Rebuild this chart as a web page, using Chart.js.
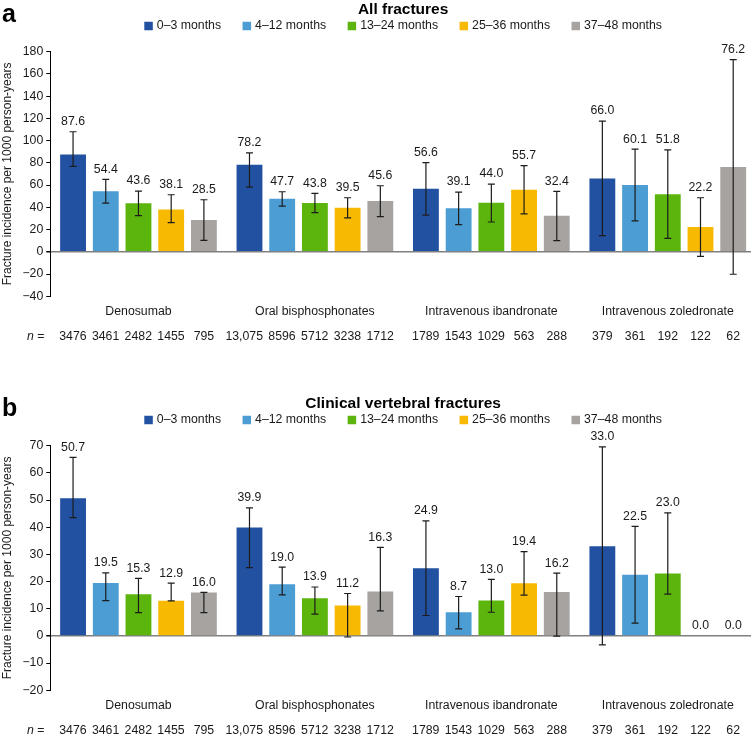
<!DOCTYPE html>
<html>
<head>
<meta charset="utf-8">
<script src="https://cdn.jsdelivr.net/npm/chart.js@4.4.1/dist/chart.umd.min.js"></script>
<style>
    html, body { margin: 0; padding: 0; background: #fff; overflow: hidden; }
    .panel { position: absolute; left: 0; }
</style>
</head>
<body>
<div class="panel" style="top:0px"><canvas id="chartA" width="756" height="342"></canvas></div>
<div class="panel" style="top:394px"><canvas id="chartB" width="756" height="342"></canvas></div>
<script>
const categories = ['Denosumab', 'Oral bisphosphonates', 'Intravenous ibandronate', 'Intravenous zoledronate'];
const periods = ['0–3 months', '4–12 months', '13–24 months', '25–36 months', '37–48 months'];
const colors = ['#2251a1', '#4b9dd3', '#5cb50d', '#f8b902', '#a7a3a0'];

// patients at risk, per period (same for both panels)
const n03 = [3476, 13075, 1789, 379];
const n412 = [3461, 8596, 1543, 361];
const n1324 = [2482, 5712, 1029, 192];
const n2536 = [1455, 3238, 563, 122];
const n3748 = [795, 1712, 288, 62];

// panel a - all fractures
const allRate03 = [87.6, 78.2, 56.6, 66.0];
const allRate412 = [54.4, 47.7, 39.1, 60.1];
const allRate1324 = [43.6, 43.8, 44.0, 51.8];
const allRate2536 = [38.1, 39.5, 55.7, 22.2];
const allRate3748 = [28.5, 45.6, 32.4, 76.2];
const allLo03 = [76.9, 58.2, 32.9, 14.5];
const allHi03 = [108.0, 89.0, 80.2, 117.6];
const allLo412 = [43.7, 41.0, 24.4, 27.8];
const allHi412 = [65.2, 54.0, 53.7, 92.3];
const allLo1324 = [32.6, 35.3, 26.8, 12.1];
const allHi1324 = [54.6, 52.5, 60.9, 91.7];
const allLo2536 = [26.2, 30.5, 34.1, -4.2];
const allHi2536 = [51.3, 48.6, 77.5, 48.6];
const allLo3748 = [10.3, 31.7, 10.0, -20.2];
const allHi3748 = [46.8, 59.4, 54.3, 172.9];
const allTicks = [-40, -20, 0, 20, 40, 60, 80, 100, 120, 140, 160, 180];

// panel b - clinical vertebral fractures
const vertRate03 = [50.7, 39.9, 24.9, 33.0];
const vertRate412 = [19.5, 19.0, 8.7, 22.5];
const vertRate1324 = [15.3, 13.9, 13.0, 23.0];
const vertRate2536 = [12.9, 11.2, 19.4, 0.0];
const vertRate3748 = [16.0, 16.3, 16.2, 0.0];
const vertLo03 = [43.5, 25.1, 7.5, -3.3];
const vertHi03 = [65.7, 47.1, 42.3, 69.6];
const vertLo412 = [13.0, 15.1, 2.6, 4.7];
const vertHi412 = [23.2, 25.3, 14.5, 40.3];
const vertLo1324 = [8.6, 8.0, 8.7, 15.4];
const vertHi1324 = [21.2, 18.0, 20.8, 45.3];
const vertLo2536 = [12.9, -0.4, 15.0, null];
const vertHi2536 = [19.4, 15.6, 31.0, null];
const vertLo3748 = [8.6, 9.2, -0.1, null];
const vertHi3748 = [16.0, 32.6, 23.1, null];
const vertTicks = [-20, -10, 0, 10, 20, 30, 40, 50, 60, 70];

const nCounts = [n03, n412, n1324, n2536, n3748];
const FONT = "'Liberation Sans', Arial, sans-serif";
const FS = 12.3;
const TXT = '#1a1a1a';

Chart.defaults.font.family = FONT;
Chart.defaults.color = TXT;

function formatN(v) {
    return v >= 10000 ? v.toLocaleString('en-US') : String(v);
}

const extras = {
    id: 'extras',
    afterDatasetsDraw(chart) {
        const ctx = chart.ctx;
        const y = chart.scales.y;
        ctx.save();
        chart.data.datasets.forEach((ds, di) => {
            const meta = chart.getDatasetMeta(di);
            meta.data.forEach((bar, i) => {
                let top = y.getPixelForValue(ds.data[i]);
                if (ds.lo[i] != null && ds.hi[i] != null) {
                    const yl = y.getPixelForValue(ds.lo[i]);
                    const yh = y.getPixelForValue(ds.hi[i]);
                    ctx.strokeStyle = '#1c1c1c';
                    ctx.lineWidth = 1.2;
                    ctx.beginPath();
                    ctx.moveTo(bar.x, yl); ctx.lineTo(bar.x, yh);
                    ctx.moveTo(bar.x - 3.5, yl); ctx.lineTo(bar.x + 3.5, yl);
                    ctx.moveTo(bar.x - 3.5, yh); ctx.lineTo(bar.x + 3.5, yh);
                    ctx.stroke();
                    top = Math.min(top, yh);
                }
                ctx.fillStyle = TXT;
                ctx.font = FS + 'px ' + FONT;
                ctx.textAlign = 'center';
                ctx.textBaseline = 'middle';
                ctx.fillText(ds.data[i].toFixed(1), bar.x, top - 10);
            });
        });
        ctx.restore();
    },
    afterDraw(chart, args, opts) {
        const ctx = chart.ctx;
        const area = chart.chartArea;
        ctx.save();
        // panel letter
        ctx.fillStyle = '#000';
        ctx.font = 'bold 25px ' + FONT;
        ctx.textAlign = 'left';
        ctx.textBaseline = 'alphabetic';
        ctx.fillText(opts.letter, 2, 22);

        // legend
        ctx.font = FS + 'px ' + FONT;
        ctx.textBaseline = 'middle';
        const box = 8.5, gapBox = 4, gapItem = 21.5;
        const widths = chart.data.datasets.map(ds => ctx.measureText(ds.label).width);
        const total = widths.reduce((s, w) => s + box + gapBox + w, 0) + gapItem * (widths.length - 1);
        let x = (area.left + area.right) / 2 - total / 2;
        const ly = 26;
        chart.data.datasets.forEach((ds, k) => {
            ctx.fillStyle = ds.backgroundColor;
            ctx.fillRect(x, ly - box / 2, box, box);
            ctx.fillStyle = TXT;
            ctx.fillText(ds.label, x + box + gapBox, ly);
            x += box + gapBox + widths[k] + gapItem;
        });

        // n row
        const ny = area.bottom + 40;
        ctx.font = 'italic ' + FS + 'px ' + FONT;
        ctx.textAlign = 'left';
        ctx.fillText('n', 27, ny);
        const nw = ctx.measureText('n').width;
        ctx.font = FS + 'px ' + FONT;
        ctx.fillText(' =', 27 + nw, ny);
        ctx.textAlign = 'center';
        chart.data.datasets.forEach((ds, di) => {
            chart.getDatasetMeta(di).data.forEach((bar, i) => {
                const txt = formatN(ds.n[i]);
                const w = ctx.measureText(txt).width;
                ctx.fillText(txt, bar.x - Math.max(0, (w - 27) / 2), ny);
            });
        });
        ctx.restore();
    }
};

function buildChart(canvasId, letter, title, rates, los, his, ticks) {
    const datasets = periods.map((p, k) => ({
        label: p,
        data: rates[k],
        lo: los[k],
        hi: his[k],
        n: nCounts[k],
        backgroundColor: colors[k],
        borderWidth: 0,
        categoryPercentage: 0.927,
        barPercentage: 0.79
    }));
    return new Chart(document.getElementById(canvasId), {
        type: 'bar',
        data: { labels: categories, datasets: datasets },
        plugins: [extras],
        options: {
            responsive: false,
            animation: false,
            layout: { padding: { top: 0, left: 0, right: 0, bottom: 15 } },
            plugins: {
                legend: { display: false },
                tooltip: { enabled: false },
                title: {
                    display: true,
                    text: title,
                    fullSize: false,
                    color: '#000',
                    font: { size: 15.5, weight: 'bold' },
                    padding: { top: 0, bottom: 33.1 }
                },
                extras: { letter: letter }
            },
            scales: {
                x: {
                    grid: { display: false, drawTicks: false },
                    border: { display: false },
                    ticks: { font: { size: FS }, color: TXT, padding: 8 }
                },
                y: {
                    min: ticks[0],
                    max: ticks[ticks.length - 1],
                    afterBuildTicks: (scale) => { scale.ticks = ticks.map(v => ({ value: v })); },
                    grid: {
                        color: (c) => (c.tick && c.tick.value === 0 ? '#808080' : 'rgba(0,0,0,0)'),
                        lineWidth: (c) => (c.tick && c.tick.value === 0 ? 1.5 : 1),
                        tickColor: '#000',
                        tickLength: 4
                    },
                    border: { display: true, color: '#000', width: 1 },
                    ticks: {
                        font: { size: FS },
                        color: TXT,
                        padding: 3,
                        callback: (v) => String(v).replace('-', '−')
                    },
                    title: {
                        display: true,
                        text: 'Fracture incidence per 1000 person-years',
                        font: { size: 12 },
                        color: TXT,
                        padding: { top: 0, bottom: 5 }
                    }
                }
            }
        }
    });
}

buildChart('chartA', 'a', 'All fractures',
    [allRate03, allRate412, allRate1324, allRate2536, allRate3748],
    [allLo03, allLo412, allLo1324, allLo2536, allLo3748],
    [allHi03, allHi412, allHi1324, allHi2536, allHi3748],
    allTicks);

buildChart('chartB', 'b', 'Clinical vertebral fractures',
    [vertRate03, vertRate412, vertRate1324, vertRate2536, vertRate3748],
    [vertLo03, vertLo412, vertLo1324, vertLo2536, vertLo3748],
    [vertHi03, vertHi412, vertHi1324, vertHi2536, vertHi3748],
    vertTicks);
</script>
</body>
</html>
